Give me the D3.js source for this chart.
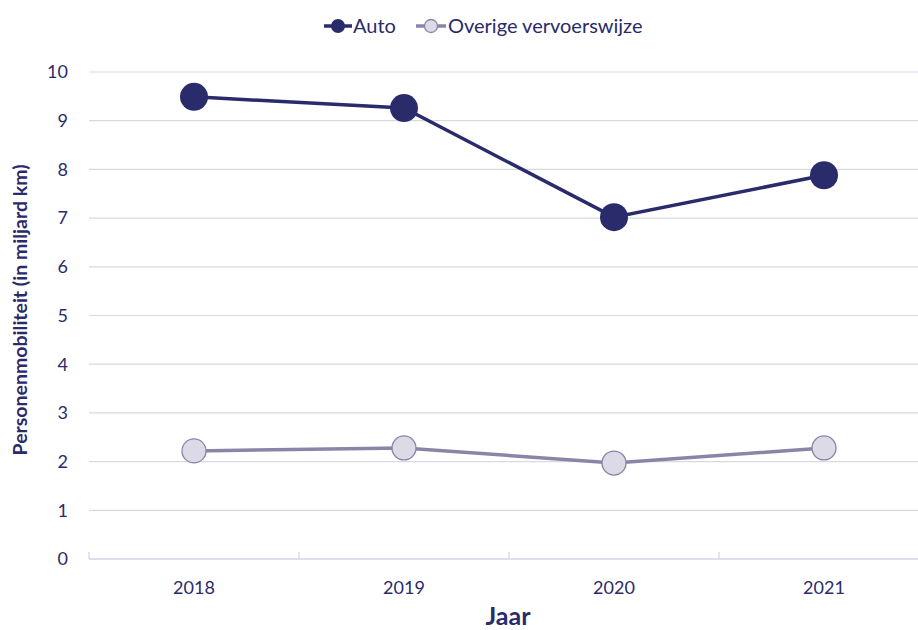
<!DOCTYPE html>
<html><head><meta charset="utf-8">
<script src="https://cdn.jsdelivr.net/npm/d3@7"></script>
<style>body{margin:0;background:#fff}svg{display:block}text{font-family:Lato,"Open Sans",sans-serif}</style>
</head><body>
<svg id="c" width="918" height="630"></svg>
<script>
const years = ["2018","2019","2020","2021"];
const auto = [9.49, 9.26, 7.02, 7.88];
const overige = [2.22, 2.28, 1.97, 2.28];
const yTicks = [0,1,2,3,4,5,6,7,8,9,10];
const seriesNames = ["Auto","Overige vervoerswijze"];

const svg=d3.select("#c");
const x=d3.scaleBand().domain(years).range([89,929]).paddingInner(0).paddingOuter(0);
const y=d3.scaleLinear().domain([0,10]).range([559,72]);
const dark="#2a2b6b", light="#8a85a8", lightFill="#dcdae6", grid="#d9d8e3";

svg.append("g").selectAll("line").data(yTicks.filter(d=>d>0)).join("line")
 .attr("x1",89).attr("x2",918).attr("y1",d=>y(d)).attr("y2",d=>y(d))
 .attr("stroke",grid).attr("stroke-width",1.2);
svg.append("line").attr("x1",89).attr("x2",918).attr("y1",y(0)).attr("y2",y(0)).attr("stroke","#d4d3e8").attr("stroke-width",1.5);
svg.append("g").selectAll("line").data(years).join("line")
 .attr("x1",d=>x(d)).attr("x2",d=>x(d)).attr("y1",y(0)).attr("y2",y(0)-7)
 .attr("stroke","#d4d3e8").attr("stroke-width",1.2);
svg.append("g").selectAll("text").data(yTicks).join("text")
 .attr("x",68).attr("y",d=>y(d)).attr("dy","0.35em").attr("text-anchor","end")
 .attr("font-size",18).attr("fill",dark).text(d=>d);
svg.append("g").selectAll("text").data(years).join("text")
 .attr("x",d=>x(d)+x.bandwidth()/2).attr("y",588).attr("dy","0.35em").attr("text-anchor","middle")
 .attr("font-size",18).attr("fill",dark).text(d=>d);
svg.append("text").attr("x",508).attr("y",617).attr("dy","0.32em").attr("text-anchor","middle")
 .attr("font-size",25).attr("font-weight","bold").attr("fill",dark).text("Jaar");
svg.append("text").attr("transform","translate(20,310) rotate(-90)").attr("dy","0.35em").attr("text-anchor","middle")
 .attr("font-size",19.5).attr("font-weight","bold").attr("fill",dark).text("Personenmobiliteit (in miljard km)");

const cx=(d,i)=>x(years[i])+x.bandwidth()/2;
const line=d3.line().x(cx).y(d=>y(d));
svg.append("path").datum(overige).attr("d",line).attr("fill","none").attr("stroke",light).attr("stroke-width",3.5);
svg.append("g").selectAll("circle").data(overige).join("circle")
 .attr("cx",cx).attr("cy",d=>y(d)).attr("r",12).attr("fill",lightFill).attr("stroke",light).attr("stroke-width",1.3);
svg.append("path").datum(auto).attr("d",line).attr("fill","none").attr("stroke",dark).attr("stroke-width",3.5);
svg.append("g").selectAll("circle").data(auto).join("circle")
 .attr("cx",cx).attr("cy",d=>y(d)).attr("r",14).attr("fill",dark);

const lg=svg.append("g");
lg.append("line").attr("x1",324).attr("x2",352).attr("y1",26).attr("y2",26).attr("stroke",dark).attr("stroke-width",3.5);
lg.append("circle").attr("cx",338).attr("cy",26).attr("r",7).attr("fill",dark);
lg.append("text").attr("x",353).attr("y",26).attr("dy","0.35em").attr("font-size",20).attr("fill",dark).text(seriesNames[0]);
lg.append("line").attr("x1",416).attr("x2",446).attr("y1",26).attr("y2",26).attr("stroke",light).attr("stroke-width",3.5);
lg.append("circle").attr("cx",431).attr("cy",26).attr("r",6.5).attr("fill",lightFill).attr("stroke",light).attr("stroke-width",1.3);
lg.append("text").attr("x",448).attr("y",26).attr("dy","0.35em").attr("font-size",20).attr("fill",dark).text(seriesNames[1]);
</script>
</body></html>
